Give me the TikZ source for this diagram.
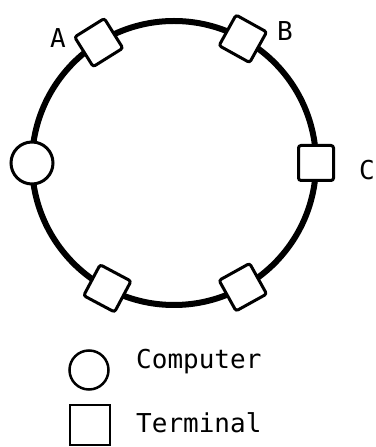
\documentclass[tikz,border=0pt]{standalone}
\usepackage{fontspec}
\usetikzlibrary{calc}
\newfontfamily\monof{DejaVu Sans Mono}
\begin{document}
\begin{tikzpicture}[x=1pt,y=1pt,
  ring/.style={line width=6pt},
  term/.style={draw,line width=3pt,fill=white,minimum size=35pt,inner sep=0pt,rounded corners=2.5pt},
  comp/.style={draw,circle,line width=3pt,fill=white,minimum size=42pt,inner sep=0pt},
  lab/.style={font=\monof\fontsize{26}{30}\selectfont,inner sep=0pt},
  legtxt/.style={font=\monof\fontsize{26}{30}\selectfont,inner sep=0pt,anchor=base west}]
\useasboundingbox (0,0) rectangle (375,447);
\coordinate (o) at (174,284);
\draw[ring] (o) circle (142);
\node[comp] (cpu) at ($(o)+(180:142)$) {};
\node[term,rotate=122] (ta) at ($(o)+(122:142)$) {};
\node[term,rotate=61] (tb) at ($(o)+(61:142)$) {};
\node[term] (tc) at ($(o)+(0:142)$) {};
\node[term,rotate=-118] (td) at ($(o)+(-118:142)$) {};
\node[term,rotate=-61] (te) at ($(o)+(-61:142)$) {};
\node[lab] (la) at (58,409) {A};
\node[lab] (lb) at (285,416) {B};
\node[lab] (lc) at (367,277) {C};
\node[draw,circle,line width=2.5pt,minimum size=39pt,inner sep=0pt] (legc) at (89,77) {};
\node[draw,line width=2.5pt,minimum size=40pt,inner sep=0pt] (legs) at (90,22) {};
\node[legtxt] (tcomp) at (136,78) {Computer};
\node[legtxt] (tterm) at (136,14) {Terminal};
\end{tikzpicture}
\end{document}
